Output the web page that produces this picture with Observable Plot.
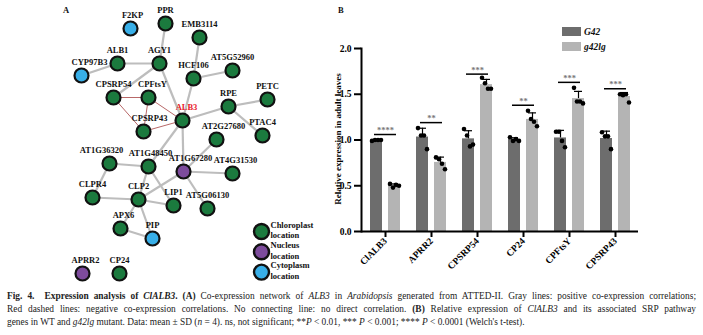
<!DOCTYPE html>
<html><head><meta charset="utf-8">
<script src="https://cdn.jsdelivr.net/npm/d3@7"></script>
<script src="https://cdn.jsdelivr.net/npm/@observablehq/plot@0.6"></script>
<style>
body{margin:0;background:#fff;}
#fig{position:relative;width:703px;height:335px;font-family:"Liberation Serif","Times New Roman",serif;color:#111;overflow:hidden;}
.pl{position:absolute;font-weight:bold;font-size:8.5px;z-index:5;}
#netA{position:absolute;left:0;top:0;}
#barB{position:absolute;left:330px;top:0;}
#legB{position:absolute;left:562px;top:24px;font-weight:bold;font-style:italic;font-size:9.5px;}
#legB .row{display:flex;align-items:center;height:15px;}
#legB .sw{width:19px;height:9px;margin-right:3px;}
#ylab{position:absolute;left:338px;top:139px;transform:translate(-50%,-50%) rotate(-90deg);white-space:nowrap;font-weight:bold;font-size:9px;color:#000;z-index:5;}
#cap{position:absolute;left:7px;top:290px;width:689px;font-size:9.4px;line-height:13px;color:#222;}
#cap .j{text-align:justify;text-align-last:justify;}
</style></head><body>
<div id="fig">
  <div id="netA"></div>
  <div id="barB"></div>
  <div id="legB"></div>
  <div id="ylab"></div>
  <div class="pl" style="left:63px;top:5px;">A</div>
  <div class="pl" style="left:338px;top:5px;">B</div>
  <div id="cap">
    <div class="j"><b>Fig. 4.</b>&nbsp;&nbsp;<b>Expression analysis of <i>ClALB3</i>.</b> <b>(A)</b> Co-expression network of <i>ALB3</i> in <i>Arabidopsis</i> generated from ATTED-II. Gray lines: positive co-expression correlations;</div>
    <div class="j">Red dashed lines: negative co-expression correlations. No connecting line: no direct correlation. <b>(B)</b> Relative expression of <i>ClALB3</i> and its associated SRP pathway</div>
    <div>genes in WT and <i>g42lg</i> mutant. Data: mean ± SD (<i>n</i> = 4). ns, not significant; **<i>P</i> &lt; 0.01, *** <i>P</i> &lt; 0.001; **** <i>P</i> &lt; 0.0001 (Welch's t-test).</div>
  </div>
</div>
<script>
// ---------- Panel A data: network ----------
const locations = ["Chloroplast", "Nucleus", "Cytoplasm"];
const locationColors = ["#1b7a3e", "#7d4b9c", "#38afe8"];
const nodeIds = ["F2KP","PPR","EMB3114","AGY1","ALB1","CYP97B3","HCF106","AT5G52960","CPSRP54","CPFtsY","ALB3","RPE","PETC","PTAC4","CPSRP43","AT2G27680","AT1G36320","AT1G48450","AT1G67280","AT4G31530","CLPR4","CLP2","LIP1","AT5G06130","APX6","PIP","APRR2","CP24"];
const nodeX =   [130,165,199,159,117, 81,193,232,113,148,182,228,267,262,143,216,109,148,183,232, 92,138,173,207,120,152, 82,119];
const nodeY =   [ 28, 23, 37, 63, 63, 75, 78, 70, 97, 97,120,106, 99,135,131,139,163,166,171,173,197,199,205,208,228,238,273,273];
const nodeLoc = ["Cytoplasm","Chloroplast","Chloroplast","Chloroplast","Chloroplast","Cytoplasm","Chloroplast","Chloroplast","Chloroplast","Chloroplast","Chloroplast","Chloroplast","Chloroplast","Chloroplast","Chloroplast","Chloroplast","Chloroplast","Chloroplast","Nucleus","Chloroplast","Chloroplast","Chloroplast","Chloroplast","Chloroplast","Chloroplast","Cytoplasm","Nucleus","Chloroplast"];
const labelNudge = {F2KP:2, CYP97B3:8, CPFtsY:4, ALB3:4, CPSRP43:6, AT2G27680:7, AT1G36320:-8, AT1G67280:7, AT4G31530:3, AT1G48450:2, APX6:3, APRR2:3};
const positiveEdges = [["PPR","AGY1"],["AGY1","ALB1"],["ALB1","CYP97B3"],["AGY1","CPSRP54"],["AGY1","ALB3"],["EMB3114","HCF106"],["HCF106","AT5G52960"],["HCF106","ALB3"],["ALB3","RPE"],["RPE","PETC"],["RPE","PTAC4"],["ALB3","AT1G48450"],["ALB3","AT1G67280"],["AT2G27680","AT1G67280"],["AT1G67280","AT4G31530"],["AT1G67280","AT5G06130"],["AT1G67280","CLP2"],["AT1G48450","AT1G36320"],["AT1G48450","LIP1"],["AT1G48450","CLP2"],["AT1G36320","CLPR4"],["CLPR4","CLP2"],["CLP2","LIP1"],["CLP2","APX6"],["CLP2","PIP"],["APX6","PIP"]];
const negativeEdges = [["CPSRP54","CPFtsY"],["CPSRP54","CPSRP43"],["CPFtsY","CPSRP43"],["CPFtsY","ALB3"],["CPSRP43","ALB3"]];

// ---------- Panel B data: bar chart ----------
const categories = ["ClALB3","APRR2","CPSRP54","CP24","CPFtsY","CPSRP43"];
const genotypes = ["G42","g42lg"];
const genotypeColors = ["#6d6d6d","#b4b4b4"];
const g42Reps   = [[0.99,1.00,1.00,1.00],[1.13,1.05,1.05,0.90],[1.12,1.05,0.93,0.95],[1.03,0.99,1.01,0.99],[1.09,1.09,0.99,0.92],[1.085,1.04,1.04,0.90]];
const g42lgReps = [[0.52,0.48,0.51,0.50],[0.81,0.79,0.74,0.68],[1.68,1.62,1.56,1.56],[1.32,1.23,1.20,1.15],[1.57,1.42,1.42,1.40],[1.50,1.49,1.50,1.41]];
const sigLevels = [1.06,1.19,1.72,1.38,1.63,1.56];
const sigLabels = ["****","**","***","**","***","***"];
const yTicks = [0,0.5,1.0,1.5,2.0];
const yLabel = "Relative expression in adult leaves";

// ---------- Panel A ----------
const nodes = nodeIds.map((id,i)=>({id, x:nodeX[i], y:nodeY[i], loc:nodeLoc[i]}));
const byId = new Map(nodes.map(n=>[n.id,n]));
const toLinks = es => es.map(([a,b])=>({x1:byId.get(a).x,y1:byId.get(a).y,x2:byId.get(b).x,y2:byId.get(b).y}));
const colorOf = loc => locationColors[locations.indexOf(loc)];
const legendItems = locations.map((loc,i)=>({loc, x:261, y:231 + i*20.3, text: loc + "\nlocation"}));

const net = Plot.plot({
  width: 330, height: 285, margin: 0,
  x: {domain:[0,330], range:[0,330], axis:null},
  y: {domain:[0,285], range:[0,285], axis:null},
  style: {fontFamily:"Liberation Serif", fontWeight:"bold", background:"transparent"},
  marks: [
    Plot.link(toLinks(positiveEdges), {x1:"x1",y1:"y1",x2:"x2",y2:"y2", stroke:"#bdbdbd", strokeWidth:2.2}),
    Plot.link(toLinks(negativeEdges), {x1:"x1",y1:"y1",x2:"x2",y2:"y2", stroke:"#b86868", strokeWidth:1}),
    Plot.dot(nodes, {x:"x", y:"y", r:7, fill:d=>colorOf(d.loc), stroke:"#111", strokeWidth:2.2}),
    Plot.text(nodes, {x:d=>d.x + (labelNudge[d.id]||0), y:"y", dy:-13, text:"id", fontSize:8.5,
      fill:d=>d.id==="ALB3" ? "#e8202a" : "#111"}),
    Plot.dot(legendItems, {x:"x", y:"y", r:7.5, fill:d=>colorOf(d.loc), stroke:"#111", strokeWidth:2.4}),
    Plot.text(legendItems, {x:"x", y:"y", dx:9, dy:-2, text:"text", textAnchor:"start", fontSize:8.5, lineHeight:1.25, fill:"#111"})
  ]
});
document.getElementById("netA").appendChild(net);

// ---------- Panel B ----------
const rows = [];
categories.forEach((c,i)=>{
  rows.push({category:c, genotype:genotypes[0], reps:g42Reps[i]});
  rows.push({category:c, genotype:genotypes[1], reps:g42lgReps[i]});
});
rows.forEach(r=>{ r.mean = d3.mean(r.reps); r.sd = d3.deviation(r.reps); });
const rowsA = rows.filter(r=>r.genotype===genotypes[0]);
const rowsB = rows.filter(r=>r.genotype===genotypes[1]);
const sig = categories.map((c,i)=>({category:c, level:sigLevels[i], label:sigLabels[i]}));
const jitter = [-4.5,-1.5,1.5,4.5];
const bw = 30, barW = 12, half = 9;

const dotMarks = [];
[rowsA, rowsB].forEach((rs,gi)=>{
  jitter.forEach((j,k)=>{
    dotMarks.push(Plot.dot(rs.map(r=>({category:r.category, value:r.reps[k]})),
      {x:"category", y:"value", r:2.3, fill:"#000", dx:(gi===0?-half:half)+j}));
  });
});

const bar = Plot.plot({
  width: 373, height: 285,
  marginLeft: 31, marginRight: 65, marginTop: 48, marginBottom: 54,
  style: {fontFamily:"Liberation Serif", fontWeight:"bold", fontSize:"9.5px", color:"#000", background:"transparent"},
  x: {domain: categories, paddingInner: 0.3534, paddingOuter: 0.1617, label: null},
  y: {domain: [0,2], label: null},
  marks: [
    Plot.barY(rowsA, {x:"category", y:"mean", fill:genotypeColors[0], insetRight: bw-barW}),
    Plot.barY(rowsB, {x:"category", y:"mean", fill:genotypeColors[1], insetLeft: bw-barW}),
    Plot.ruleX(rowsA, {x:"category", y1:"mean", y2:d=>d.mean+d.sd, dx:-half, strokeWidth:1.2}),
    Plot.ruleX(rowsB, {x:"category", y1:"mean", y2:d=>d.mean+d.sd, dx:half, strokeWidth:1.2}),
    Plot.tickY(rowsA, {x:"category", y:d=>d.mean+d.sd, insetLeft:2, insetRight:20, strokeWidth:1.2}),
    Plot.tickY(rowsB, {x:"category", y:d=>d.mean+d.sd, insetLeft:20, insetRight:2, strokeWidth:1.2}),
    ...dotMarks,
    Plot.tickY(sig, {x:"category", y:"level", insetLeft:4, insetRight:4, strokeWidth:1.5}),
    Plot.text(sig, {x:"category", y:"level", text:"label", dy:-4, fill:"#777", fontSize:8.5}),
    Plot.ruleY([0], {strokeWidth:2}),
    Plot.frame({anchor:"left", strokeWidth:2}),
    Plot.axisY({ticks: yTicks, tickFormat: d3.format(".1f"), tickSize:7, tickPadding:3, strokeWidth:2, label:null}),
    Plot.axisX({tickRotate:-45, tickSize:6, tickPadding:2, strokeWidth:2, label:null})
  ]
});
document.getElementById("barB").appendChild(bar);
document.getElementById("ylab").textContent = yLabel;

// legend for panel B
const leg = d3.select("#legB");
genotypes.forEach((g,i)=>{
  const row = leg.append("div").attr("class","row");
  row.append("div").attr("class","sw").style("background", genotypeColors[i]);
  row.append("span").text(g);
});
</script>
</body></html>
